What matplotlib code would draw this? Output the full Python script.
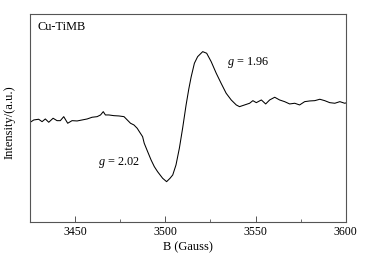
import matplotlib.pyplot as plt
from matplotlib.ticker import MultipleLocator

plt.rcParams['font.family'] = ['Liberation Serif', 'DejaVu Serif']
plt.rcParams['mathtext.fontset'] = 'custom'
plt.rcParams['mathtext.it'] = 'Liberation Serif:italic'
plt.rcParams['mathtext.rm'] = 'Liberation Serif'

# EPR spectrum (arbitrary intensity units)
field = [3424.8, 3427.1, 3429.8, 3431.7, 3433.5, 3435.4, 3437.8, 3440.0, 3441.8,
         3443.7, 3445.9, 3448.3, 3451.1, 3453.9, 3456.7, 3459.4, 3462.2, 3464.1,
         3465.6, 3466.8, 3468.7, 3471.5, 3474.3, 3477.1, 3478.9, 3480.7, 3482.6,
         3484.4, 3485.6, 3487.4, 3488.3, 3490.2, 3492.1, 3493.9, 3495.7, 3498.5,
         3500.7, 3502.6, 3504.1, 3505.9, 3507.8, 3509.6, 3511.5, 3513.0, 3514.3,
         3516.1, 3517.9, 3520.7, 3522.9, 3525.4, 3528.2, 3530.9, 3533.7, 3536.5,
         3539.3, 3541.1, 3543.9, 3546.7, 3548.5, 3550.4, 3553.2, 3555.6, 3557.8,
         3560.6, 3563.3, 3566.1, 3568.9, 3571.7, 3574.4, 3577.2, 3580.0, 3582.8,
         3585.6, 3588.3, 3591.1, 3593.9, 3596.7, 3599.4, 3600.0]
intensity = [99.3, 102.0, 102.7, 100.3, 103.0, 99.7, 103.7, 101.3, 101.3,
             105.3, 98.7, 101.3, 101.0, 102.0, 103.0, 104.7, 105.3, 107.0,
             110.3, 107.0, 107.0, 106.3, 106.0, 105.3, 102.0, 98.7, 97.0,
             93.7, 90.3, 85.3, 78.7, 70.3, 62.0, 55.3, 50.3, 43.7,
             40.3, 43.7, 47.0, 57.0, 74.0, 94.0, 117.0, 133.0, 145.0,
             158.7, 165.3, 170.3, 168.7, 160.3, 148.7, 138.7, 128.7, 122.0,
             117.0, 115.3, 117.0, 118.7, 121.3, 119.3, 122.0, 118.0, 122.0,
             124.7, 122.0, 120.3, 118.0, 118.7, 117.0, 120.3, 121.0, 121.3,
             122.7, 121.3, 119.3, 118.7, 120.3, 118.7, 119.0]

fig = plt.figure(figsize=(3.72, 2.63), dpi=100)
ax = fig.add_axes([0.0806, 0.156, 0.849, 0.791])

ax.plot(field, intensity, color='black', lw=0.75)
ax.set_xlim(3425, 3600)
ax.set_ylim(0, 208)

ax.xaxis.set_major_locator(MultipleLocator(50))
ax.xaxis.set_minor_locator(MultipleLocator(25))
ax.tick_params(axis='x', which='major', direction='in', length=4, width=0.7,
               color='#555555', labelsize=8.6, pad=3)
ax.tick_params(axis='x', which='minor', direction='in', length=2.5, width=0.6,
               color='#555555')
ax.set_yticks([])
for s in ax.spines.values():
    s.set_color('#555555')
    s.set_linewidth(0.8)

ax.set_xlabel('B (Gauss)', fontsize=9, labelpad=2)
ax.set_ylabel('Intensity/(a.u.)', fontsize=9)
ax.yaxis.set_label_coords(-0.046, 0.48)

ax.text(0.025, 0.9375, 'Cu-TiMB', transform=ax.transAxes, fontsize=8.8,
        va='center', ha='left')
ax.text(3534.4, 159, r'$g$ = 1.96', fontsize=8.8, va='center', ha='left')
ax.text(3462.8, 59, r'$g$ = 2.02', fontsize=8.8, va='center', ha='left')

fig.savefig('out.png', dpi=100)
